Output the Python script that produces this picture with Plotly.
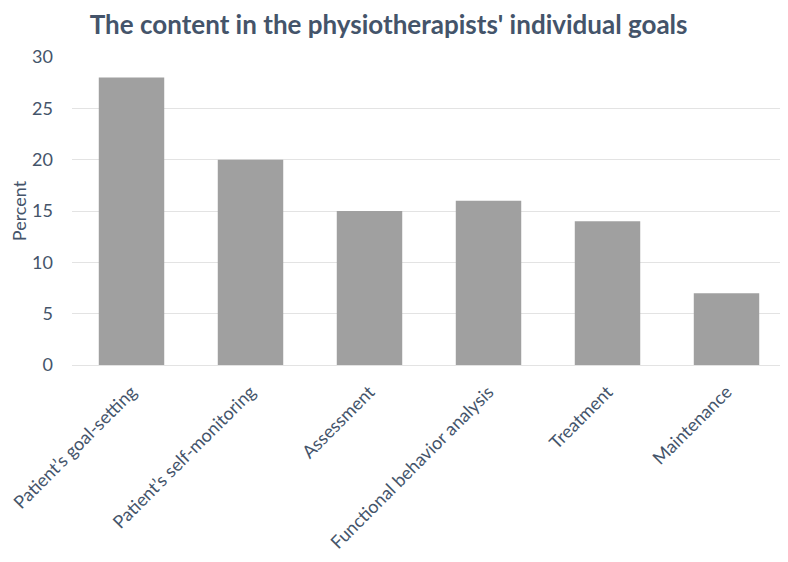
import plotly.graph_objects as go

categories = [
    "Patient\u2019s goal-setting",
    "Patient\u2019s self-monitoring",
    "Assessment",
    "Functional behavior analysis",
    "Treatment",
    "Maintenance",
]
percent = [28, 20, 15, 16, 14, 7]

text_color = "#44546A"
font_family = "Lato, 'Open Sans', sans-serif"

fig = go.Figure(
    go.Bar(
        x=categories,
        y=percent,
        marker=dict(color="#A0A0A0", line=dict(width=0)),
        hovertemplate="%{x}: %{y}%<extra></extra>",
    )
)

# page body adds 8px offset, so the figure is a bit smaller than the window
fig.update_layout(
    width=780,
    height=554,
    paper_bgcolor="white",
    plot_bgcolor="white",
    bargap=0.45,
    showlegend=False,
    font=dict(family=font_family, color=text_color, size=16),
    title=dict(
        text="<b>The content in the physiotherapists' individual goals</b>",
        x=0.488,
        xanchor="center",
        y=0.969,
        yanchor="middle",
        font=dict(size=26, color=text_color, family=font_family),
    ),
    margin=dict(l=64, r=2, t=49, b=197, autoexpand=False),
)

fig.update_xaxes(
    tickangle=-45,
    showgrid=False,
    showline=False,
    ticks="",
    ticklabelstandoff=12,
    tickfont=dict(size=18, color=text_color),
)

fig.update_yaxes(
    range=[0, 30],
    dtick=5,
    showgrid=True,
    gridcolor="#E3E3E3",
    gridwidth=1,
    zeroline=True,
    zerolinecolor="#E3E3E3",
    zerolinewidth=1,
    ticks="",
    ticklabelstandoff=18,
    tickfont=dict(size=18, color=text_color),
    title=dict(text="Percent", standoff=8, font=dict(size=18, color=text_color)),
)

fig.write_html("out.html")
